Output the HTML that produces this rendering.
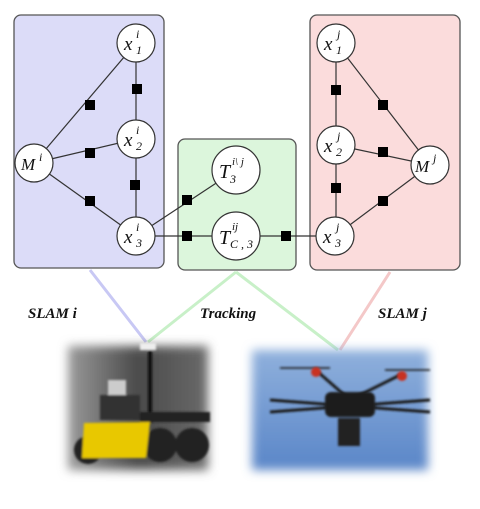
<!DOCTYPE html>
<html><head><meta charset="utf-8"><style>
html,body{margin:0;padding:0;background:#fff;}
svg{display:block}
text{font-family:"Liberation Serif",serif;font-style:italic;}
</style></head><body>
<svg width="480" height="509" viewBox="0 0 480 509" xmlns="http://www.w3.org/2000/svg">
<defs>
<filter id="b" x="-20%" y="-20%" width="140%" height="140%"><feGaussianBlur stdDeviation="5"/></filter>
<filter id="s" x="-20%" y="-20%" width="140%" height="140%"><feGaussianBlur stdDeviation="1"/></filter>
<linearGradient id="sky" x1="0" y1="0" x2="0" y2="1"><stop offset="0" stop-color="#8fb0dc"/><stop offset="1" stop-color="#5a86c8"/></linearGradient>
<linearGradient id="gr" x1="0" y1="0" x2="1" y2="0"><stop offset="0" stop-color="#9a9a9a"/><stop offset="0.5" stop-color="#4a4a4a"/><stop offset="1" stop-color="#6a6a6a"/></linearGradient>
</defs>
<line x1="90" y1="270" x2="146" y2="342" stroke="#c8c8f4" stroke-width="3"/>
<line x1="236" y1="272" x2="148" y2="342" stroke="#c8f0c8" stroke-width="3"/>
<line x1="236" y1="272" x2="338" y2="350" stroke="#c8f0c8" stroke-width="3"/>
<line x1="390" y1="272" x2="340" y2="350" stroke="#f4c8c8" stroke-width="3"/>
<rect x="14" y="15" width="150" height="253" rx="7" fill="#dcdcf8" stroke="#555" stroke-width="1.3"/>
<rect x="178" y="139" width="118" height="131" rx="7" fill="#dcf6dc" stroke="#555" stroke-width="1.3"/>
<rect x="310" y="15" width="150" height="255" rx="7" fill="#fbdcdc" stroke="#555" stroke-width="1.3"/>
<g stroke="#333" stroke-width="1.2" fill="none">
<line x1="136" y1="43" x2="136" y2="236"/>
<line x1="34" y1="163" x2="136" y2="43"/>
<line x1="34" y1="163" x2="136" y2="139"/>
<line x1="34" y1="163" x2="136" y2="236"/>
<line x1="136" y1="236" x2="236" y2="170"/>
<line x1="136" y1="236" x2="335" y2="236"/>
<line x1="336" y1="43" x2="336" y2="236"/>
<line x1="430" y1="165" x2="336" y2="43"/>
<line x1="430" y1="165" x2="336" y2="145"/>
<line x1="430" y1="165" x2="335" y2="236"/>
</g>
<g fill="#000">
<rect x="132" y="84" width="10" height="10"/>
<rect x="85" y="100" width="10" height="10"/>
<rect x="85" y="148" width="10" height="10"/>
<rect x="85" y="196" width="10" height="10"/>
<rect x="130" y="180" width="10" height="10"/>
<rect x="182" y="195" width="10" height="10"/>
<rect x="182" y="231" width="10" height="10"/>
<rect x="281" y="231" width="10" height="10"/>
<rect x="331" y="85" width="10" height="10"/>
<rect x="378" y="100" width="10" height="10"/>
<rect x="378" y="147" width="10" height="10"/>
<rect x="331" y="183" width="10" height="10"/>
<rect x="378" y="196" width="10" height="10"/>
</g>
<g fill="#fff" stroke="#333" stroke-width="1.2">
<circle cx="136" cy="43" r="19"/><circle cx="136" cy="139" r="19"/><circle cx="136" cy="236" r="19"/>
<circle cx="34" cy="163" r="19"/>
<circle cx="236" cy="170" r="24"/><circle cx="236" cy="236" r="24"/>
<circle cx="336" cy="43" r="19"/><circle cx="336" cy="145" r="19"/><circle cx="335" cy="236" r="19"/>
<circle cx="430" cy="165" r="19"/>
</g>
<g font-size="19" fill="#111">
<text x="124" y="50">x</text><text x="136" y="38" font-size="12">i</text><text x="136" y="54" font-size="12">1</text>
<text x="124" y="146">x</text><text x="136" y="134" font-size="12">i</text><text x="136" y="150" font-size="12">2</text>
<text x="124" y="243">x</text><text x="136" y="231" font-size="12">i</text><text x="136" y="247" font-size="12">3</text>
<text x="21" y="170" font-size="17">M</text><text x="39" y="161" font-size="12">i</text>
<text x="219" y="178" font-size="20">T</text><text x="232" y="165" font-size="11">i\ j</text><text x="230" y="183" font-size="12">3</text>
<text x="219" y="244" font-size="20">T</text><text x="232" y="230" font-size="11">ij</text><text x="230" y="248" font-size="12">C , 3</text>
<text x="324" y="50">x</text><text x="337" y="38" font-size="12">j</text><text x="336" y="54" font-size="12">1</text>
<text x="324" y="152">x</text><text x="337" y="140" font-size="12">j</text><text x="336" y="156" font-size="12">2</text>
<text x="323" y="243">x</text><text x="336" y="231" font-size="12">j</text><text x="335" y="247" font-size="12">3</text>
<text x="415" y="172" font-size="17">M</text><text x="433" y="162" font-size="12">j</text>
</g>
<g font-size="15" font-weight="bold" fill="#111">
<text x="28" y="318">SLAM i</text>
<text x="200" y="318">Tracking</text>
<text x="378" y="318">SLAM j</text>
</g>
<rect x="68" y="346" width="140" height="124" fill="url(#gr)" filter="url(#b)"/>
<g filter="url(#s)">
<rect x="148" y="348" width="4" height="75" fill="#111"/>
<rect x="140" y="343" width="16" height="7" fill="#eee"/>
<rect x="108" y="380" width="18" height="40" fill="#ccc"/>
<rect x="100" y="395" width="40" height="25" fill="#333"/>
<rect x="140" y="412" width="70" height="10" fill="#222"/>
<circle cx="160" cy="445" r="17" fill="#222"/><circle cx="192" cy="445" r="17" fill="#222"/>
<circle cx="88" cy="450" r="14" fill="#222"/>
<polygon points="84,423 150,422 146,458 82,458" fill="#e8c800"/>
</g>
<rect x="252" y="350" width="176" height="120" fill="url(#sky)" filter="url(#b)"/>
<g filter="url(#s)" stroke="#1a1a1a" stroke-width="3" fill="none">
<line x1="318" y1="372" x2="350" y2="400"/>
<line x1="400" y1="375" x2="350" y2="400"/>
<line x1="270" y1="400" x2="430" y2="412"/>
<line x1="270" y1="412" x2="430" y2="400"/>
<line x1="280" y1="368" x2="330" y2="368" stroke-width="1.5"/>
<line x1="385" y1="370" x2="430" y2="370" stroke-width="1.5"/>
</g>
<g filter="url(#s)">
<rect x="325" y="392" width="50" height="25" rx="6" fill="#1d1d1d"/>
<rect x="338" y="418" width="22" height="28" fill="#222"/>
<circle cx="316" cy="372" r="5" fill="#c83020"/><circle cx="402" cy="376" r="5" fill="#c83020"/>
</g>
</svg>
</body></html>
